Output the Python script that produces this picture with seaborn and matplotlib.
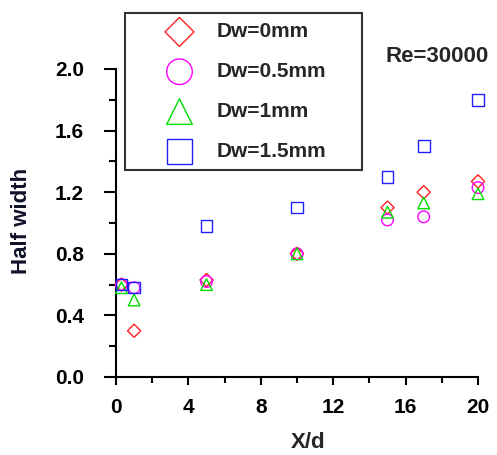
import matplotlib
matplotlib.use("Agg")
import matplotlib.pyplot as plt
import seaborn as sns
import pandas as pd
from matplotlib.ticker import MultipleLocator, FormatStrFormatter

sns.set_style("ticks")
plt.rcParams['font.family'] = ['Liberation Sans', 'DejaVu Sans']

x_vals = [0.3, 1, 5, 10, 15, 17, 20]
dw0 = [0.60, 0.30, 0.63, 0.80, 1.10, 1.20, 1.27]
dw05 = [0.60, 0.58, 0.62, 0.80, 1.02, 1.04, 1.23]
dw1 = [0.58, 0.50, 0.60, 0.80, 1.07, 1.13, 1.19]
dw15 = [0.60, 0.58, 0.98, 1.10, 1.30, 1.50, 1.80]
labels = ["Dw=0mm", "Dw=0.5mm", "Dw=1mm", "Dw=1.5mm"]
series = [dw0, dw05, dw1, dw15]
colors = ["#ff2020", "#ff00ff", "#00dd00", "#2020ff"]
markers = ["D", "o", "^", "s"]

FS = 15
fig = plt.figure(figsize=(4.97, 4.55), dpi=100)
ax = fig.add_axes([116/497, 1-377/455, 362/497, 308/455])

for lab, ys, c, m in zip(labels, series, colors, markers):
    df = pd.DataFrame({"X/d": x_vals, "Half width": ys})
    sz = 45 if m == "D" else 70
    sns.scatterplot(data=df, x="X/d", y="Half width", ax=ax, marker=m, s=sz,
                    facecolors="none", edgecolors=c, linewidths=1.0,
                    label=lab, clip_on=False, zorder=3)

ax.set_xlim(0, 20)
ax.set_ylim(0, 2.0)
ax.xaxis.set_major_locator(MultipleLocator(4))
ax.xaxis.set_minor_locator(MultipleLocator(2))
ax.yaxis.set_major_locator(MultipleLocator(0.4))
ax.yaxis.set_minor_locator(MultipleLocator(0.2))
ax.yaxis.set_major_formatter(FormatStrFormatter('%.1f'))
sns.despine(ax=ax)
for sp in ["left", "bottom"]:
    ax.spines[sp].set_linewidth(1.5)
    ax.spines[sp].set_color("black")
ax.tick_params(axis="y", which="major", length=9, width=1.5, direction="out", colors="black", pad=14)
ax.tick_params(axis="y", which="minor", length=5, width=1.5, direction="out", colors="black")
ax.tick_params(axis="x", which="major", length=6, width=1.5, direction="out", colors="black", pad=9)
ax.tick_params(axis="x", which="minor", length=4.5, width=1.5, direction="out", colors="black")
for t in ax.get_xticklabels() + ax.get_yticklabels():
    t.set_fontsize(FS)
    t.set_fontweight("bold")
ax.set_xlabel("X/d", fontsize=FS + 1, fontweight="bold", va="center", ha="center")
ax.set_ylabel("Half width", fontsize=FS + 1, fontweight="bold", va="center", ha="center",
              color="#10102a")
ax.xaxis.set_label_coords((308-116)/362, (377-443)/308)
ax.yaxis.set_label_coords((22-116)/362, (377-221)/308)

leg = ax.legend(loc="upper left", bbox_to_anchor=(125/497, 1-170/455, 237/497, 157/455),
                bbox_transform=fig.transFigure, mode="expand", markerscale=2.2,
                prop={"weight": "bold", "size": FS}, frameon=True, fancybox=False,
                borderaxespad=0, labelspacing=1.0, handletextpad=-0.38,
                borderpad=0.45, handlelength=4.33)
leg.get_frame().set_edgecolor("black")
leg.get_frame().set_linewidth(1.5)

fig.text(437/497, 1-57/455, "Re=30000", fontsize=FS + 1, fontweight="bold",
         ha="center", va="center")

fig.savefig("out.png", dpi=100)
